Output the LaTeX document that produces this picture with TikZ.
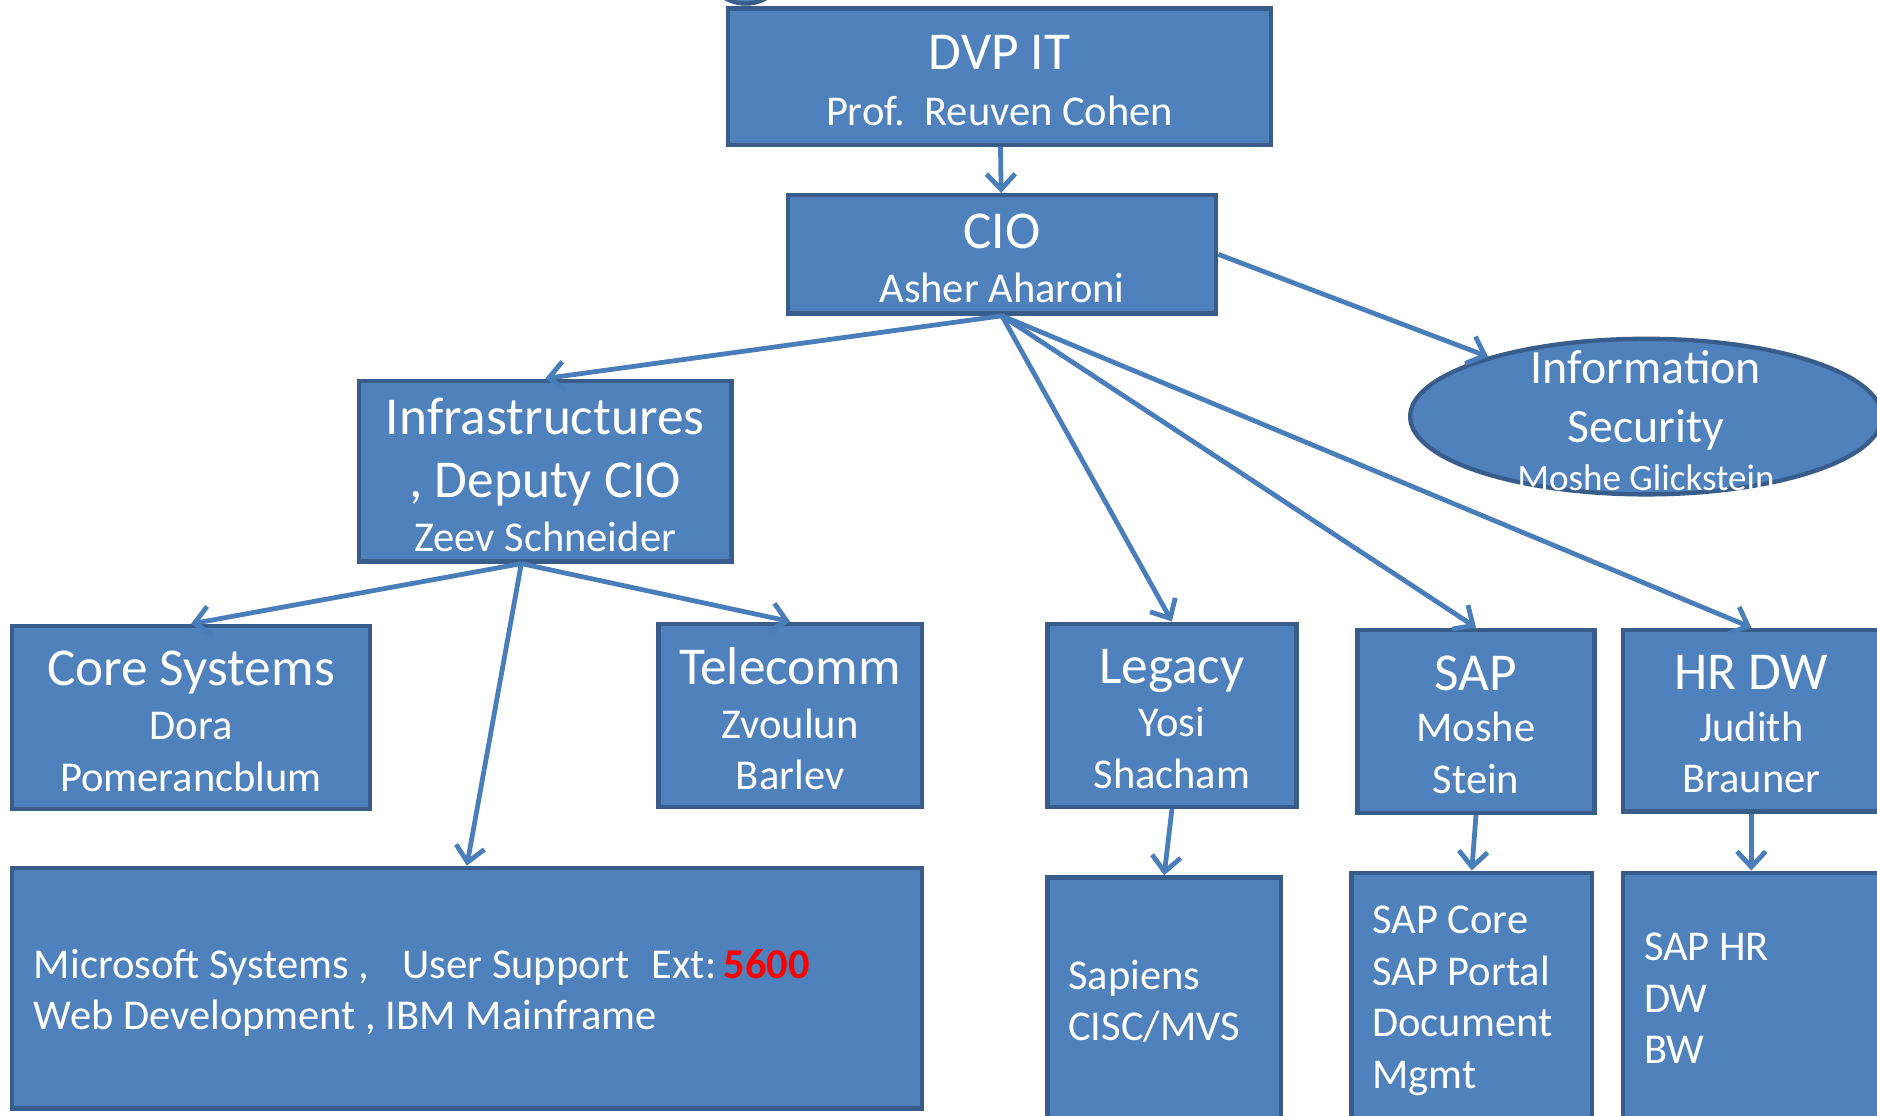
\documentclass[tikz,border=0pt]{standalone}
\usepackage{fontspec}
\setmainfont{Carlito}
\usetikzlibrary{arrows.meta,shapes.geometric,calc}
\definecolor{boxfill}{HTML}{4F81BD}
\definecolor{boxline}{HTML}{385D8A}
\definecolor{arrowcol}{HTML}{4A7EBB}
\newcommand\ttl{\fontsize{22.25}{26.5}\selectfont}
\newcommand\sttl{\fontsize{20}{24}\selectfont}
\begin{document}
\begin{tikzpicture}[x=0.5pt,y=-0.5pt,
  box/.style={draw=boxline,fill=boxfill,line width=1.8pt,rectangle,inner sep=0pt},
  oval/.style={draw=boxline,fill=boxfill,line width=1.8pt,ellipse,inner sep=0pt},
  txt/.style={text=white,inner sep=0pt,align=center,yshift=-1.5pt,font=\fontsize{17.75}{21.5}\selectfont},
  lst/.style={txt,align=left,anchor=west},
  conn/.style={draw=arrowcol,line width=2pt,-{Straight Barb[length=6.5pt,width=12pt]}}]
\clip (0,0) rectangle (1568,932);
\fill[white] (0,0) rectangle (1568,932);
% fragment of a shape above the picture
\draw[boxline,fill=boxfill,line width=1.8pt] (623,-31) circle (34);
% boxes
\node[box,minimum width=227pt,minimum height=57pt] (dvp) at (835,64) {};
\node[box,minimum width=179pt,minimum height=49.5pt] (cio) at (837,212.5) {};
\node[box,minimum width=155.5pt,minimum height=75.5pt] (infra) at (455.5,393.5) {};
\node[oval,minimum width=197pt,minimum height=65pt] (sec) at (1375,348) {};
\node[box,minimum width=149.5pt,minimum height=76.5pt] (core) at (159.5,599.5) {};
\node[box,minimum width=110pt,minimum height=76.5pt] (tel) at (660,597.5) {};
\node[box,minimum width=104pt,minimum height=76.5pt] (leg) at (979,597.5) {};
\node[box,minimum width=99pt,minimum height=76.5pt] (sap) at (1233,602.5) {};
\node[box,minimum width=107pt,minimum height=76pt] (hr) at (1463,602) {};
\node[box,minimum width=380pt,minimum height=100.5pt] (ms) at (390,825.5) {};
\node[box,minimum width=97.5pt,minimum height=101pt] (sapiens) at (972.5,834) {};
\node[box,minimum width=100.5pt,minimum height=103pt] (sapcore) at (1229.5,832) {};
\node[box,minimum width=107pt,minimum height=103pt] (saphr) at (1463,832) {};
% texts
\node[txt] (dvpT) at (dvp) {{\ttl DVP IT}\\[2pt]Prof.\ \ Reuven Cohen};
\node[txt] (cioT) at (cio) {{\ttl CIO}\\[1pt]Asher Aharoni};
\node[txt] (infraT) at (infra) {{\ttl Infrastructures}\\[5pt]{\ttl , Deputy CIO}\\[1pt]Zeev Schneider};
\node[txt,yshift=0.25pt,font=\fontsize{15.5}{21}\selectfont] (secT) at (1375,349) {{\sttl Information}\\[3.5pt]{\sttl Security}\\[-1pt]Moshe Glickstein};
\node[txt] (coreT) at (core) {{\ttl Core Systems}\\[1pt]Dora\\Pomerancblum};
\node[txt] (telT) at (tel) {{\ttl Telecomm}\\[1pt]Zvoulun\\Barlev};
\node[txt] (legT) at (leg) {{\ttl Legacy}\\[0.75pt]Yosi\\Shacham};
\node[txt] (sapT) at (sap) {{\ttl SAP}\\[0pt]Moshe\\Stein};
\node[txt] (hrT) at (hr) {{\ttl HR DW}\\[0pt]Judith\\Brauner};
\node[lst] (msT) at (28,826.5) {Microsoft Systems ,\hspace{14pt}User Support\hspace{9pt}Ext:\hspace{3pt}\textcolor{red}{\textbf{5600}}\\Web Development , IBM Mainframe};
\node[lst] (sapiensT) at (892,833.5) {Sapiens\\CISC/MVS};
\node[lst] (sapcoreT) at (1146,833) {SAP Core\\SAP Portal\\Document\\Mgmt};
\node[lst] (saphrT) at (1373,831) {SAP HR\\DW\\BW};
% connectors
\coordinate (infraout) at ($(infra.south)+(-20,0)$);
\draw[conn] (dvp) -- (cio);
\draw[conn] (cio.east) -- (sec);
\draw[conn] (cio.south) -- (infra.north);
\draw[conn] (cio.south) -- (leg.north);
\draw[conn] (cio.south) -- (sap.north);
\draw[conn] (cio.south) -- (hr.north);
\draw[conn] (infraout) -- (core.north);
\draw[conn] (infraout) -- (tel.north);
\draw[conn] (infraout) -- (ms.north);
\draw[conn] (leg.south) -- (sapiens.north);
\draw[conn] (sap.south) -- (sapcore.north);
\draw[conn] (hr.south) -- (saphr.north);
\end{tikzpicture}
\end{document}
